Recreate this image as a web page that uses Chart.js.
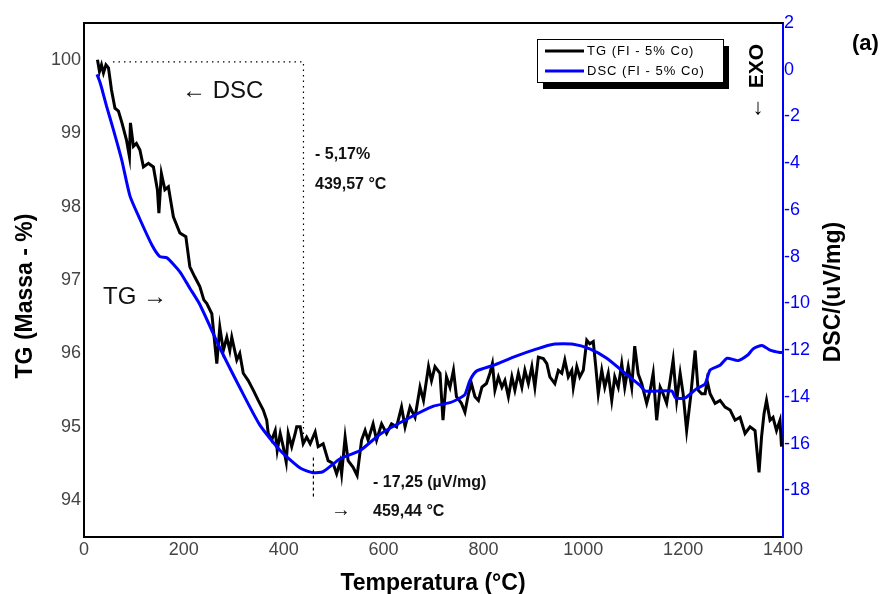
<!DOCTYPE html>
<html>
<head>
<meta charset="utf-8">
<script src="https://cdn.jsdelivr.net/npm/chart.js@4/dist/chart.umd.min.js"></script>
<style>
  body { margin: 0; background: #fff; }
  canvas { display: block; }
</style>
</head>
<body>
<canvas id="tgDscChart" width="886" height="594"></canvas>
<script>
// TG curve (mass %)
const tgTemp = [27, 31, 35, 39, 44, 49, 55, 62, 69, 76, 85, 91, 93, 99, 105, 112, 119, 129, 139, 147,
  150, 155, 162, 169, 179, 192, 204, 212, 222, 232, 240, 246, 256, 266, 272, 279, 286, 292, 296, 306,
  312, 319, 329, 339, 349, 359, 366, 369, 376, 383, 387, 393, 399, 405, 409, 416, 423, 426, 433, 439,
  446, 453, 463, 469, 479, 489, 499, 506, 513, 516, 523, 529, 539, 547, 556, 563, 569, 579, 586, 596,
  606, 616, 626, 636, 643, 653, 663, 673, 680, 690, 696, 703, 713, 719, 726, 733, 740, 746, 756, 763,
  770, 776, 783, 790, 797, 806, 813, 818, 823, 830, 837, 843, 850, 857, 863, 870, 877, 883, 890, 897,
  903, 910, 920, 927, 933, 943, 950, 957, 963, 970, 977, 980, 987, 993, 1000, 1007, 1013, 1020, 1025, 1030,
  1037, 1043, 1050, 1057, 1063, 1070, 1077, 1083, 1090, 1097, 1103, 1110, 1117, 1127, 1134, 1140, 1147, 1154, 1160, 1167,
  1174, 1180, 1187, 1194, 1200, 1207, 1215, 1224, 1230, 1237, 1244, 1248, 1254, 1264, 1274, 1284, 1294, 1304, 1314, 1324,
  1334, 1344, 1352, 1357, 1362, 1367, 1374, 1380, 1387, 1394, 1397];
const tgMass = [100.0, 99.84, 99.93, 99.82, 99.93, 99.89, 99.59, 99.34, 99.30, 99.14, 98.91, 98.68, 99.14, 98.82, 98.86, 98.77, 98.54, 98.59, 98.54, 98.23,
  97.91, 98.45, 98.23, 98.27, 97.86, 97.64, 97.59, 97.18, 97.04, 96.91, 96.73, 96.68, 96.54, 95.86, 96.36, 96.04, 96.22, 96.04, 96.22, 95.91,
  96.00, 95.73, 95.63, 95.50, 95.36, 95.23, 95.09, 94.91, 94.82, 94.95, 94.68, 94.91, 94.73, 94.52, 94.91, 94.73, 94.91, 95.00, 95.00, 94.77,
  94.86, 94.77, 94.93, 94.73, 94.77, 94.54, 94.50, 94.36, 94.52, 94.36, 94.86, 94.54, 94.45, 94.34, 94.82, 94.95, 94.82, 95.04, 94.82, 95.04,
  94.91, 95.04, 95.00, 95.27, 95.00, 95.27, 95.13, 95.54, 95.36, 95.82, 95.63, 95.82, 95.73, 95.09, 95.68, 95.54, 95.77, 95.41, 95.32, 95.20,
  95.45, 95.59, 95.41, 95.36, 95.54, 95.59, 95.73, 95.86, 95.50, 95.68, 95.54, 95.63, 95.41, 95.68, 95.50, 95.73, 95.54, 95.77, 95.59, 95.82,
  95.54, 95.95, 95.93, 95.86, 95.68, 95.59, 95.77, 95.73, 95.91, 95.68, 95.77, 95.54, 95.82, 95.68, 95.77, 96.18, 96.13, 96.16, 95.82, 95.45,
  95.77, 95.54, 95.73, 95.36, 95.68, 95.54, 95.86, 95.54, 95.82, 95.54, 96.10, 95.72, 95.59, 95.32, 95.50, 95.73, 95.09, 95.54, 95.45, 95.32,
  95.63, 95.91, 95.36, 95.73, 95.45, 94.95, 95.41, 96.04, 95.50, 95.45, 95.45, 95.63, 95.45, 95.32, 95.36, 95.27, 95.23, 95.09, 95.13, 94.91,
  95.00, 94.95, 94.38, 94.86, 95.18, 95.36, 95.09, 95.13, 94.95, 95.09, 94.73];

// DSC curve (uV/mg)
const dscTemp = [26, 31, 35, 45, 58, 76, 92, 112, 136, 152, 166, 192, 212, 232, 272, 312, 352, 393, 433, 459,
  479, 513, 553, 593, 647, 700, 733, 753, 763, 773, 786, 820, 860, 907, 940, 980, 1013, 1047, 1087, 1113,
  1124, 1177, 1185, 1204, 1227, 1244, 1254, 1274, 1288, 1310, 1330, 1340, 1358, 1374, 1394, 1400];
const dscSignal = [-0.2, -0.47, -0.75, -1.55, -2.5, -3.9, -5.4, -6.4, -7.5, -8.0, -8.05, -8.65, -9.35, -10.05, -11.9, -13.6, -15.2, -16.3, -17.05, -17.25,
  -17.2, -16.65, -16.3, -15.6, -14.95, -14.4, -14.25, -14.05, -13.9, -13.3, -12.9, -12.65, -12.3, -11.95, -11.75, -11.75, -11.95, -12.35, -13.05, -13.5,
  -13.75, -13.75, -14.05, -14.05, -13.65, -13.45, -12.85, -12.65, -12.35, -12.45, -12.2, -11.95, -11.8, -12.0, -12.1, -12.1];

// tick labels
const tempTicks = [0, 200, 400, 600, 800, 1000, 1200, 1400];
const tgTicks = [94, 95, 96, 97, 98, 99, 100];
const dscTicks = [2, 0, -2, -4, -6, -8, -10, -12, -14, -16, -18];

// marked events
const tgEvent = [439.57, 99.97, 94.86];      // temp, top of guide, bottom of guide
const dscPeak = [459.44, -16.6, -18.4];      // temp, guide from, guide to

const toPoints = (xs, ys) => xs.map((x, i) => ({ x: x, y: ys[i] }));
const useTicks = list => s => { s.ticks = list.map(v => ({ value: v })); };
const FONT = '"Liberation Sans", Arial, sans-serif';

const extras = {
  id: 'extras',
  afterDatasetsDraw(chart) {
    const { ctx, chartArea: a, scales: { x, y, y1 } } = chart;
    ctx.save();

    // top frame line
    ctx.strokeStyle = '#000';
    ctx.lineWidth = 2;
    ctx.beginPath();
    ctx.moveTo(a.left, a.top);
    ctx.lineTo(a.right, a.top);
    ctx.stroke();

    // dotted guide for the TG mass loss
    const ex = x.getPixelForValue(tgEvent[0]);
    ctx.lineWidth = 1.2;
    ctx.setLineDash([1.5, 4]);
    ctx.beginPath();
    ctx.moveTo(x.getPixelForValue(58), y.getPixelForValue(tgEvent[1]));
    ctx.lineTo(ex, y.getPixelForValue(tgEvent[1]));
    ctx.lineTo(ex, y.getPixelForValue(tgEvent[2]));
    ctx.stroke();

    // dashed guide at DSC peak
    const px = x.getPixelForValue(dscPeak[0]);
    ctx.setLineDash([3, 3]);
    ctx.beginPath();
    ctx.moveTo(px, y1.getPixelForValue(dscPeak[1]));
    ctx.lineTo(px, y1.getPixelForValue(dscPeak[2]));
    ctx.stroke();
    ctx.setLineDash([]);

    // legend box with shadow
    ctx.fillStyle = '#000';
    ctx.fillRect(543, 46, 186, 43);
    ctx.fillStyle = '#fff';
    ctx.fillRect(537, 39, 186, 43);
    ctx.lineWidth = 1;
    ctx.strokeRect(537.5, 39.5, 186, 43);
    ctx.lineWidth = 3;
    ctx.strokeStyle = '#000';
    ctx.beginPath(); ctx.moveTo(545, 51); ctx.lineTo(584, 51); ctx.stroke();
    ctx.strokeStyle = '#0000ff';
    ctx.beginPath(); ctx.moveTo(545, 71); ctx.lineTo(584, 71); ctx.stroke();
    ctx.fillStyle = '#000';
    ctx.font = '13px ' + FONT;
    ctx.letterSpacing = '1px';
    ctx.textBaseline = 'middle';
    ctx.textAlign = 'left';
    ctx.fillText('TG (FI - 5% Co)', 587, 51);
    ctx.fillText('DSC (FI - 5% Co)', 587, 71);
    ctx.letterSpacing = '0px';

    // annotations
    ctx.fillStyle = '#111';
    ctx.font = '24px ' + FONT;
    ctx.fillText('\u2190 DSC', 182, 91);
    ctx.fillText('TG \u2192', 103, 297);
    ctx.font = 'bold 16px ' + FONT;
    ctx.fillText('- 5,17%', 315, 155);
    ctx.fillText('439,57 \u00b0C', 315, 185);
    ctx.fillText('- 17,25 (\u00b5V/mg)', 373, 483);
    ctx.fillText('459,44 \u00b0C', 373, 512);
    ctx.font = '20px ' + FONT;
    ctx.fillText('\u2192', 331, 510);

    ctx.fillStyle = '#000';
    ctx.font = 'bold 22px ' + FONT;
    ctx.fillText('(a)', 852, 44);

    // EXO marker
    ctx.save();
    ctx.translate(763, 66);
    ctx.rotate(-Math.PI / 2);
    ctx.textAlign = 'center';
    ctx.textBaseline = 'alphabetic';
    ctx.font = 'bold 21px ' + FONT;
    ctx.fillText('EXO', 0, 0);
    ctx.restore();
    ctx.textAlign = 'center';
    ctx.font = '22px ' + FONT;
    ctx.fillText('\u2193', 758, 108);

    // axis titles
    ctx.font = 'bold 23px ' + FONT;
    ctx.textBaseline = 'alphabetic';
    ctx.fillText('Temperatura (\u00b0C)', 433, 590);
    ctx.save();
    ctx.translate(32, 296);
    ctx.rotate(-Math.PI / 2);
    ctx.fillText('TG (Massa - %)', 0, 0);
    ctx.restore();
    ctx.save();
    ctx.translate(840, 292);
    ctx.rotate(-Math.PI / 2);
    ctx.fillText('DSC/(uV/mg)', 0, 0);
    ctx.restore();

    ctx.restore();
  }
};

const ctx = document.getElementById('tgDscChart').getContext('2d');
const chart = new Chart(ctx, {
  type: 'line',
  data: {
    datasets: [{
      label: 'TG (FI - 5% Co)',
      data: toPoints(tgTemp, tgMass),
      borderColor: '#000',
      borderWidth: 3,
      pointRadius: 0,
      tension: 0,
      yAxisID: 'y',
      order: 1
    }, {
      label: 'DSC (FI - 5% Co)',
      data: toPoints(dscTemp, dscSignal),
      borderColor: '#0000ff',
      borderWidth: 3,
      pointRadius: 0,
      tension: 0.2,
      yAxisID: 'y1',
      order: 0
    }]
  },
  options: {
    responsive: false,
    animation: false,
    layout: { padding: { top: 23, left: 0, right: 0, bottom: 0 } },
    plugins: {
      legend: { display: false },
      tooltip: { enabled: false }
    },
    scales: {
      x: {
        type: 'linear',
        min: 0,
        max: 1400,
        afterBuildTicks: useTicks(tempTicks),
        grid: { display: false, drawTicks: false },
        border: { color: '#000', width: 2 },
        ticks: { padding: 2, maxRotation: 0, autoSkip: false, color: '#444', font: { family: FONT, size: 18 }, callback: v => String(v) },
        afterFit(s) { s.height = 57; }
      },
      y: {
        position: 'left',
        min: 93.5,
        max: 100.5,
        afterBuildTicks: useTicks(tgTicks),
        grid: { display: false, drawTicks: false },
        border: { color: '#000', width: 2 },
        ticks: { padding: 3, color: '#444', font: { family: FONT, size: 18 }, callback: v => String(v) },
        afterFit(s) { s.width = 84; }
      },
      y1: {
        position: 'right',
        min: -20,
        max: 2,
        afterBuildTicks: useTicks(dscTicks),
        grid: { display: false, drawTicks: false },
        border: { color: '#0000ff', width: 2 },
        ticks: { padding: 1, color: '#0000ff', font: { family: FONT, size: 18 }, callback: v => String(v) },
        afterFit(s) { s.width = 103; }
      }
    }
  },
  plugins: [extras]
});
</script>
</body>
</html>
